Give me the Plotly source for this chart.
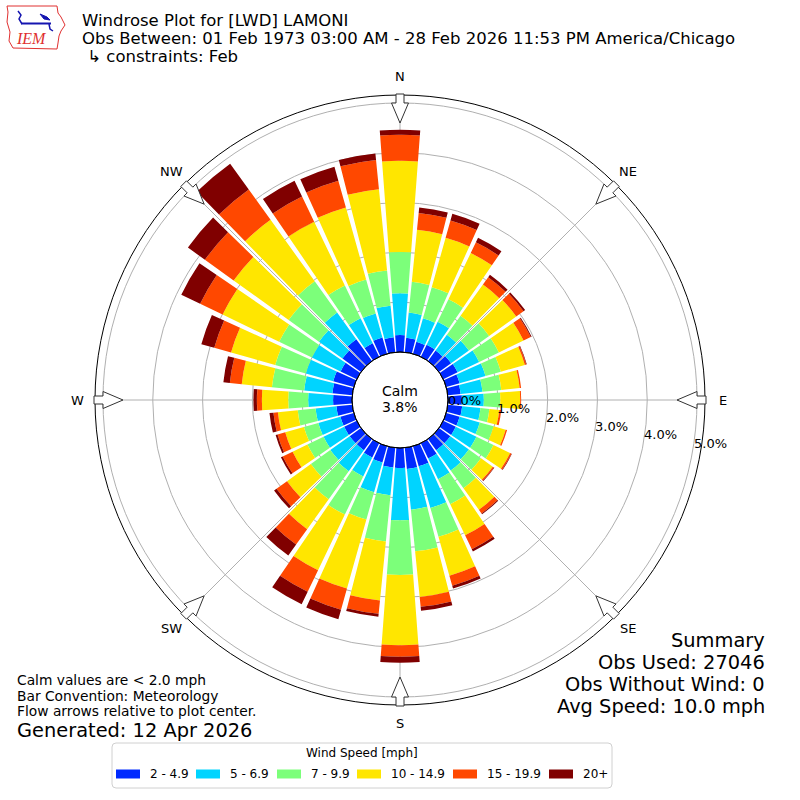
import math
import plotly.graph_objects as go

# page geometry in pixels (800x800 page, plot centre at 400,400)
W, H = 800, 800
CX, CY = 400, 400
R_OUT = 305      # outer frame radius
R_HOLE = 48      # calm hole radius
R_MAX = 5.16     # radial range in percent
FONT = "DejaVu Sans"

DIRECTIONS = list(range(0, 360, 10))
SPEED_BINS = ["2 - 4.9", "5 - 6.9", "7 - 9.9", "10 - 14.9", "15 - 19.9", "20+"]
COLORS = ["#002aff", "#00d4ff", "#7cff7a", "#ffe600", "#ff4800", "#800000"]

# frequency (%) per direction, one list per speed bin
SPD_2_5 = [0.34, 0.29, 0.25, 0.27, 0.26, 0.30, 0.32, 0.28, 0.26, 0.28, 0.29, 0.28,
           0.28, 0.28, 0.28, 0.34, 0.42, 0.43, 0.40, 0.40, 0.34, 0.32, 0.28, 0.28,
           0.28, 0.28, 0.32, 0.38, 0.40, 0.43, 0.36, 0.46, 0.54, 0.30, 0.34, 0.30]
SPD_5_7 = [0.84, 0.51, 0.49, 0.51, 0.39, 0.44, 0.48, 0.54, 0.44, 0.44, 0.37, 0.42,
           0.46, 0.46, 0.50, 0.46, 0.87, 0.82, 1.05, 0.56, 0.62, 0.42, 0.52, 0.48,
           0.46, 0.46, 0.42, 0.50, 0.57, 0.57, 0.64, 0.58, 0.66, 0.56, 0.50, 0.64]
SPD_7_10 = [0.83, 0.62, 0.65, 0.50, 0.47, 0.50, 0.44, 0.32, 0.38, 0.33, 0.18, 0.29,
            0.38, 0.30, 0.44, 0.56, 0.60, 0.84, 1.10, 0.93, 0.57, 0.85, 0.69, 0.48,
            0.36, 0.30, 0.36, 0.40, 0.65, 0.64, 0.73, 0.75, 0.77, 0.73, 0.71, 0.71]
SPD_10_15 = [1.83, 1.05, 1.03, 1.03, 0.77, 0.67, 0.55, 0.50, 0.37, 0.40, 0.20, 0.25,
             0.37, 0.29, 0.53, 0.69, 0.81, 0.92, 1.41, 1.19, 1.44, 1.24, 0.74, 0.59,
             0.33, 0.39, 0.40, 0.53, 0.61, 0.92, 1.26, 1.36, 1.52, 1.42, 1.50, 1.64]
SPD_15_20 = [0.52, 0.34, 0.36, 0.24, 0.18, 0.18, 0.16, 0.03, 0.03, 0.02, 0.04, 0.03,
             0.03, 0.03, 0.09, 0.31, 0.21, 0.20, 0.23, 0.27, 0.44, 0.48, 0.38, 0.26,
             0.22, 0.16, 0.09, 0.10, 0.24, 0.35, 0.50, 0.71, 0.75, 0.56, 0.56, 0.59]
SPD_20P = [0.10, 0.11, 0.14, 0.10, 0.06, 0.04, 0.02, 0.01, 0.00, 0.00, 0.00, 0.00,
           0.01, 0.01, 0.02, 0.05, 0.06, 0.08, 0.12, 0.06, 0.20, 0.28, 0.27, 0.06,
           0.04, 0.04, 0.08, 0.07, 0.13, 0.27, 0.42, 0.42, 0.64, 0.35, 0.29, 0.13]
BIN_VALUES = [SPD_2_5, SPD_5_7, SPD_7_10, SPD_10_15, SPD_15_20, SPD_20P]

CALM_PCT = 3.8
RADIAL_TICKS = [0, 1, 2, 3, 4, 5]
COMPASS = ["N", "NE", "E", "SE", "S", "SW", "W", "NW"]
COMPASS_DEG = [0, 45, 90, 135, 180, 225, 270, 315]

TITLE_LINES = ["Windrose Plot for [LWD] LAMONI",
               "Obs Between: 01 Feb 1973 03:00 AM - 28 Feb 2026 11:53 PM America/Chicago",
               " \u21b3 constraints: Feb"]
NOTES = ["Calm values are < 2.0 mph", "Bar Convention: Meteorology",
         "Flow arrows relative to plot center."]
GENERATED = "Generated: 12 Apr 2026"
SUMMARY = ["Summary", "Obs Used: 27046", "Obs Without Wind: 0", "Avg Speed: 10.0 mph"]


def fx(p):
    return p / W


def fy(p):
    return 1 - p / H


def polar_px(r, deg, off=0.0):
    t = math.radians(deg)
    return (CX + r * math.sin(t) + off * math.cos(t),
            CY - r * math.cos(t) + off * math.sin(t))


def path_from(points, close=True):
    s = "M " + " L ".join(f"{fx(x):.5f},{fy(y):.5f}" for x, y in points)
    return s + (" Z" if close else "")


fig = go.Figure()

for name, vals, col in zip(SPEED_BINS, BIN_VALUES, COLORS):
    fig.add_trace(go.Barpolar(r=vals, theta=DIRECTIONS, width=8.6, name=name,
                              marker=dict(color=col, line=dict(width=0))))

shapes = []
annotations = []

# hole edge
shapes.append(dict(type="circle", xref="paper", yref="paper",
                   x0=fx(CX - R_HOLE), x1=fx(CX + R_HOLE), y0=fy(CY + R_HOLE), y1=fy(CY - R_HOLE),
                   line=dict(color="black", width=1)))

# flow arrows on the frame
for d in COMPASS_DEG:
    pts = [(306, -4), (297, -4), (297, -8.5), (277, 0), (297, 8.5), (297, 4), (306, 4)]
    shapes.append(dict(type="path", xref="paper", yref="paper",
                       path=path_from([polar_px(r, d, o) for r, o in pts]),
                       fillcolor="white", line=dict(color="#333333", width=1)))

# compass labels
for lab, d in zip(COMPASS, COMPASS_DEG):
    x, y = polar_px(323, d)
    annotations.append(dict(x=fx(x), y=fy(y), text=lab, showarrow=False,
                            xanchor="center", yanchor="middle",
                            font=dict(family=FONT, size=13, color="black")))

# radial tick labels
ang = math.radians(10)
for v in RADIAL_TICKS:
    rp = R_HOLE + v * (R_OUT - R_HOLE) / R_MAX
    x = CX + rp * math.cos(ang) + 17.5
    y = CY + rp * math.sin(ang) - 8
    annotations.append(dict(x=fx(x), y=fy(y), text=f"{v:.1f}%", showarrow=False,
                            xanchor="center", yanchor="middle",
                            font=dict(family=FONT, size=13, color="black")))

# calm text
annotations.append(dict(x=fx(CX), y=fy(391), text="Calm", showarrow=False,
                        xanchor="center", yanchor="middle", font=dict(family=FONT, size=14, color="black")))
annotations.append(dict(x=fx(CX), y=fy(407), text=f"{CALM_PCT:.1f}%", showarrow=False,
                        xanchor="center", yanchor="middle", font=dict(family=FONT, size=14, color="black")))

# title block
for i, line in enumerate(TITLE_LINES):
    annotations.append(dict(x=fx(80), y=fy(20.5 + 18.2 * i), text=line, showarrow=False,
                            xanchor="left", yanchor="middle",
                            font=dict(family=FONT, size=16.5, color="black")))

# IEM logo (rough)
iowa = [(7, 6), (57, 6), (58, 13), (61, 17), (65, 25), (61, 31), (59, 36), (58, 43),
        (57, 49), (13, 48), (9, 41), (10, 32), (7, 22), (8, 12)]
shapes.append(dict(type="path", xref="paper", yref="paper", path=path_from(iowa),
                   line=dict(color="#e03030", width=1), fillcolor="rgba(0,0,0,0)"))
shapes.append(dict(type="line", xref="paper", yref="paper", x0=fx(21), x1=fx(51), y0=fy(23.5), y1=fy(23.5),
                   line=dict(color="#1515b0", width=2)))
shapes.append(dict(type="path", xref="paper", yref="paper",
                   path=path_from([(18, 11), (21, 15), (19, 19), (22, 24)], close=False),
                   line=dict(color="#1515b0", width=1.5)))
shapes.append(dict(type="path", xref="paper", yref="paper",
                   path=path_from([(40, 14), (47, 17), (50, 20), (44, 19)]),
                   line=dict(color="#1515b0", width=1), fillcolor="#1515b0"))
shapes.append(dict(type="path", xref="paper", yref="paper",
                   path=path_from([(49, 24), (50, 29), (53, 31)], close=False),
                   line=dict(color="#1515b0", width=1.5)))
annotations.append(dict(x=fx(31), y=fy(38.5), text="<i>IEM</i>", showarrow=False,
                        xanchor="center", yanchor="middle",
                        font=dict(family="Liberation Serif", size=16, color="#e03030")))

# notes, bottom left
for i, line in enumerate(NOTES):
    annotations.append(dict(x=fx(16), y=fy(680 + 15.5 * i), text=line, showarrow=False,
                            xanchor="left", yanchor="middle", borderpad=0,
                            font=dict(family=FONT, size=13.8, color="black")))
annotations.append(dict(x=fx(16), y=fy(730.5), text=GENERATED, showarrow=False,
                        xanchor="left", yanchor="middle", borderpad=0,
                        font=dict(family=FONT, size=19.4, color="black")))

# summary, bottom right
for i, line in enumerate(SUMMARY):
    annotations.append(dict(x=fx(767), y=fy(640 + 22 * i), text=line, showarrow=False,
                            xanchor="right", yanchor="middle",
                            font=dict(family=FONT, size=19.4, color="black")))

# legend box
lx0, lx1, ly0, ly1, rr = 112, 612, 743, 788, 4
box = (f"M {fx(lx0 + rr)},{fy(ly0)} L {fx(lx1 - rr)},{fy(ly0)} Q {fx(lx1)},{fy(ly0)} {fx(lx1)},{fy(ly0 + rr)} "
       f"L {fx(lx1)},{fy(ly1 - rr)} Q {fx(lx1)},{fy(ly1)} {fx(lx1 - rr)},{fy(ly1)} "
       f"L {fx(lx0 + rr)},{fy(ly1)} Q {fx(lx0)},{fy(ly1)} {fx(lx0)},{fy(ly1 - rr)} "
       f"L {fx(lx0)},{fy(ly0 + rr)} Q {fx(lx0)},{fy(ly0)} {fx(lx0 + rr)},{fy(ly0)} Z")
shapes.append(dict(type="path", xref="paper", yref="paper", path=box,
                   line=dict(color="#d0d0d0", width=1), fillcolor="white"))
annotations.append(dict(x=fx((lx0 + lx1) / 2), y=fy(753), text="Wind Speed [mph]", showarrow=False,
                        xanchor="center", yanchor="middle", font=dict(family=FONT, size=12, color="black")))
LEGEND_X = [116, 196, 277, 357, 453, 549]
for lab, col, x in zip(SPEED_BINS, COLORS, LEGEND_X):
    shapes.append(dict(type="rect", xref="paper", yref="paper", x0=fx(x), x1=fx(x + 24),
                       y0=fy(778.5), y1=fy(769.5), fillcolor=col, line=dict(width=0)))
    annotations.append(dict(x=fx(x + 32), y=fy(774), text=lab, showarrow=False,
                            xanchor="left", yanchor="middle", font=dict(family=FONT, size=12, color="black")))

fig.update_layout(
    width=W, height=H,
    margin=dict(l=0, r=0, t=0, b=0),
    paper_bgcolor="white",
    showlegend=False,
    polar=dict(
        domain=dict(x=[fx(CX - R_OUT), fx(CX + R_OUT)], y=[(H - CY - R_OUT) / H, (H - CY + R_OUT) / H]),
        hole=R_HOLE / R_OUT,
        bgcolor="white",
        barmode="stack",
        radialaxis=dict(range=[0, R_MAX], tickvals=RADIAL_TICKS[1:], showticklabels=False,
                        showline=False, ticks="", gridcolor="#b0b0b0", gridwidth=0.8),
        angularaxis=dict(rotation=90, direction="clockwise", tickvals=COMPASS_DEG,
                         showticklabels=False, ticks="", linecolor="black", linewidth=1,
                         gridcolor="#b0b0b0", gridwidth=0.8),
    ),
    shapes=shapes,
    annotations=annotations,
)

# page has a default 8px body margin; drop it so the figure sits at the page origin
fig.write_html("out.html", config={"displayModeBar": False},
               post_script="document.body.style.margin='0';")
